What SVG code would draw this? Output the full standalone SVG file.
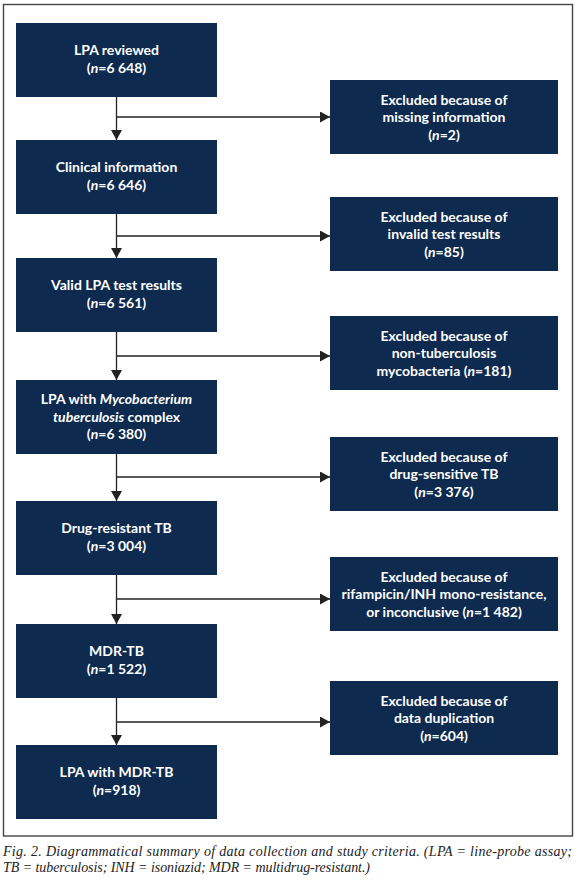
<svg xmlns="http://www.w3.org/2000/svg" width="580" height="888" viewBox="0 0 580 888">
<style>
.box{fill:#0e2a4f;}
.t{font-family:Lato,"Open Sans","Liberation Sans",sans-serif;font-size:14px;font-weight:700;fill:#ffffff;text-anchor:middle;}
.i{font-style:italic;}
.ln{stroke:#222;stroke-width:1.3;fill:none;}
.cap{font-family:"Liberation Serif",serif;font-style:italic;font-size:14px;fill:#222;}
</style>
<defs>
<marker id="ah" viewBox="0 0 10 11" refX="10" refY="5.5" markerWidth="10" markerHeight="11" markerUnits="userSpaceOnUse" orient="auto">
<path d="M0,0 L10,5.5 L0,11 Z" fill="#222"/>
</marker>
</defs>
<rect x="3.5" y="4.5" width="569" height="831.5" fill="#fff" stroke="#444" stroke-width="1.4"/>
<g id="connectors">
<line class="ln" x1="116.5" y1="97" x2="116.5" y2="140" marker-end="url(#ah)"/>
<line class="ln" x1="116.5" y1="117" x2="330" y2="117" marker-end="url(#ah)"/>
<line class="ln" x1="116.5" y1="214" x2="116.5" y2="258" marker-end="url(#ah)"/>
<line class="ln" x1="116.5" y1="236" x2="330" y2="236" marker-end="url(#ah)"/>
<line class="ln" x1="116.5" y1="332" x2="116.5" y2="380" marker-end="url(#ah)"/>
<line class="ln" x1="116.5" y1="356" x2="330" y2="356" marker-end="url(#ah)"/>
<line class="ln" x1="116.5" y1="454" x2="116.5" y2="501" marker-end="url(#ah)"/>
<line class="ln" x1="116.5" y1="477" x2="330" y2="477" marker-end="url(#ah)"/>
<line class="ln" x1="116.5" y1="575" x2="116.5" y2="624" marker-end="url(#ah)"/>
<line class="ln" x1="116.5" y1="599" x2="330" y2="599" marker-end="url(#ah)"/>
<line class="ln" x1="116.5" y1="698" x2="116.5" y2="745" marker-end="url(#ah)"/>
<line class="ln" x1="116.5" y1="722" x2="330" y2="722" marker-end="url(#ah)"/>
</g>
<g id="n1"><rect class="box" x="16" y="23" width="201" height="74"/>
<text class="t" x="116.5" y="55">LPA reviewed</text>
<text class="t" x="116.5" y="72.5">(<tspan class="i">n</tspan>=6 648)</text></g>
<g id="n2"><rect class="box" x="16" y="140" width="201" height="74"/>
<text class="t" x="116.5" y="172">Clinical information</text>
<text class="t" x="116.5" y="189.5">(<tspan class="i">n</tspan>=6 646)</text></g>
<g id="n3"><rect class="box" x="16" y="258" width="201" height="74"/>
<text class="t" x="116.5" y="290">Valid LPA test results</text>
<text class="t" x="116.5" y="307.5">(<tspan class="i">n</tspan>=6 561)</text></g>
<g id="n4"><rect class="box" x="16" y="380" width="201" height="74"/>
<text class="t" x="116.5" y="404">LPA with <tspan class="i">Mycobacterium</tspan></text>
<text class="t" x="116.5" y="421.5"><tspan class="i">tuberculosis</tspan> complex</text>
<text class="t" x="116.5" y="439">(<tspan class="i">n</tspan>=6 380)</text></g>
<g id="n5"><rect class="box" x="16" y="501" width="201" height="74"/>
<text class="t" x="116.5" y="533">Drug-resistant TB</text>
<text class="t" x="116.5" y="550.5">(<tspan class="i">n</tspan>=3 004)</text></g>
<g id="n6"><rect class="box" x="16" y="624" width="201" height="74"/>
<text class="t" x="116.5" y="656">MDR-TB</text>
<text class="t" x="116.5" y="673.5">(<tspan class="i">n</tspan>=1 522)</text></g>
<g id="n7"><rect class="box" x="16" y="745" width="201" height="74"/>
<text class="t" x="116.5" y="777">LPA with MDR-TB</text>
<text class="t" x="116.5" y="794.5">(<tspan class="i">n</tspan>=918)</text></g>
<g id="e1"><rect class="box" x="330" y="80" width="228" height="74"/>
<text class="t" x="444" y="104.5">Excluded because of</text>
<text class="t" x="444" y="122">missing information</text>
<text class="t" x="444" y="139.5">(<tspan class="i">n</tspan>=2)</text></g>
<g id="e2"><rect class="box" x="330" y="197" width="228" height="74"/>
<text class="t" x="444" y="221.5">Excluded because of</text>
<text class="t" x="444" y="239">invalid test results</text>
<text class="t" x="444" y="256.5">(<tspan class="i">n</tspan>=85)</text></g>
<g id="e3"><rect class="box" x="330" y="316" width="228" height="74"/>
<text class="t" x="444" y="340.5">Excluded because of</text>
<text class="t" x="444" y="358">non-tuberculosis</text>
<text class="t" x="444" y="375.5">mycobacteria (<tspan class="i">n</tspan>=181)</text></g>
<g id="e4"><rect class="box" x="330" y="437" width="228" height="74"/>
<text class="t" x="444" y="461.5">Excluded because of</text>
<text class="t" x="444" y="479">drug-sensitive TB</text>
<text class="t" x="444" y="496.5">(<tspan class="i">n</tspan>=3 376)</text></g>
<g id="e5"><rect class="box" x="330" y="557" width="228" height="74"/>
<text class="t" x="444" y="581.7">Excluded because of</text>
<text class="t" x="444" y="599.2">rifampicin/INH mono-resistance,</text>
<text class="t" x="444" y="616.7">or inconclusive (<tspan class="i">n</tspan>=1 482)</text></g>
<g id="e6"><rect class="box" x="330" y="681" width="228" height="74"/>
<text class="t" x="444" y="705.5">Excluded because of</text>
<text class="t" x="444" y="723">data duplication</text>
<text class="t" x="444" y="740.5">(<tspan class="i">n</tspan>=604)</text></g>
<g id="caption">
<text class="cap" x="3" y="856" textLength="569" lengthAdjust="spacing">Fig. 2. Diagrammatical summary of data collection and study criteria. (LPA = line-probe assay;</text>
<text class="cap" x="3" y="872" textLength="367" lengthAdjust="spacing">TB = tuberculosis; INH = isoniazid; MDR = multidrug-resistant.)</text>
</g>
</svg>
